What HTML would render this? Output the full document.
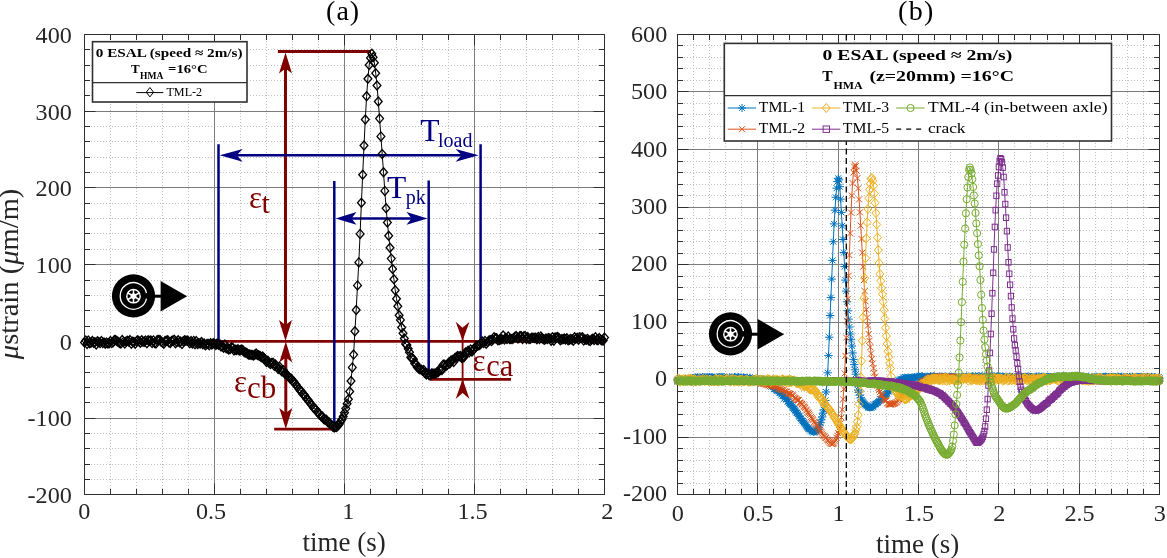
<!DOCTYPE html><html><head><meta charset="utf-8"><style>html,body{margin:0;padding:0;background:#fff;}svg{display:block;will-change:transform;} text{font-family:"Liberation Serif",serif;}</style></head><body>
<svg width="1167" height="558" viewBox="0 0 1167 558">
<rect width="1167" height="558" fill="#fff"/>
<defs>
<marker id="mD" markerUnits="userSpaceOnUse" markerWidth="12" markerHeight="12" refX="6" refY="6" overflow="visible"><path d="M6 1.5 L9.9 6 L6 10.5 L2.1 6 Z" fill="none" stroke="#000" stroke-width="1.3"/></marker>
<marker id="mY" markerUnits="userSpaceOnUse" markerWidth="12" markerHeight="12" refX="6" refY="6" overflow="visible"><path d="M6 1.5 L10 6 L6 10.5 L2 6 Z" fill="none" stroke="#EDB120" stroke-width="1"/></marker>
<marker id="mS" markerUnits="userSpaceOnUse" markerWidth="12" markerHeight="12" refX="6" refY="6" overflow="visible"><path d="M1.8 6 H10.2 M6 2.5 V9.5 M3 3 L9 9 M3 9 L9 3" fill="none" stroke="#0072BD" stroke-width="1"/></marker>
<marker id="mX" markerUnits="userSpaceOnUse" markerWidth="12" markerHeight="12" refX="6" refY="6" overflow="visible"><path d="M3 3 L9 9 M3 9 L9 3" fill="none" stroke="#D95319" stroke-width="1"/></marker>
<marker id="mO" markerUnits="userSpaceOnUse" markerWidth="12" markerHeight="12" refX="6" refY="6" overflow="visible"><circle cx="6" cy="6" r="3.6" fill="none" stroke="#77AC30" stroke-width="1"/></marker>
<marker id="mQ" markerUnits="userSpaceOnUse" markerWidth="12" markerHeight="12" refX="6" refY="6" overflow="visible"><rect x="3.4" y="3.3" width="5.2" height="5.6" fill="none" stroke="#7E2F8E" stroke-width="1"/></marker>
</defs>
<path d="M110.5 35 V494.5 M136.5 35 V494.5 M162.5 35 V494.5 M188.5 35 V494.5 M240.5 35 V494.5 M266.5 35 V494.5 M292.5 35 V494.5 M318.5 35 V494.5 M370.5 35 V494.5 M396.5 35 V494.5 M422.5 35 V494.5 M448.5 35 V494.5 M500.5 35 V494.5 M526.5 35 V494.5 M552.5 35 V494.5 M578.5 35 V494.5 M85 479.5 H604.5 M85 464.5 H604.5 M85 448.5 H604.5 M85 433.5 H604.5 M85 402.5 H604.5 M85 387.5 H604.5 M85 372.5 H604.5 M85 356.5 H604.5 M85 326.5 H604.5 M85 310.5 H604.5 M85 295.5 H604.5 M85 280.5 H604.5 M85 249.5 H604.5 M85 233.5 H604.5 M85 218.5 H604.5 M85 203.5 H604.5 M85 172.5 H604.5 M85 157.5 H604.5 M85 141.5 H604.5 M85 126.5 H604.5 M85 95.5 H604.5 M85 80.5 H604.5 M85 65.5 H604.5 M85 49.5 H604.5" stroke="#c0c0c0" stroke-width="1" stroke-dasharray="1 2" fill="none"/>
<path d="M214.5 34.5 V494.5 M344.5 34.5 V494.5 M474.5 34.5 V494.5 M84.5 111.5 H604.5 M84.5 187.5 H604.5 M84.5 264.5 H604.5 M84.5 341.5 H604.5 M84.5 418.5 H604.5" stroke="#7c7c7c" stroke-width="1" fill="none"/>
<path d="M693.5 35 V494.5 M709.5 35 V494.5 M725.5 35 V494.5 M741.5 35 V494.5 M773.5 35 V494.5 M789.5 35 V494.5 M806.5 35 V494.5 M822.5 35 V494.5 M854.5 35 V494.5 M870.5 35 V494.5 M886.5 35 V494.5 M902.5 35 V494.5 M934.5 35 V494.5 M950.5 35 V494.5 M966.5 35 V494.5 M982.5 35 V494.5 M1014.5 35 V494.5 M1030.5 35 V494.5 M1047.5 35 V494.5 M1063.5 35 V494.5 M1095.5 35 V494.5 M1111.5 35 V494.5 M1127.5 35 V494.5 M1143.5 35 V494.5 M678 483.5 H1159.5 M678 471.5 H1159.5 M678 460.5 H1159.5 M678 448.5 H1159.5 M678 425.5 H1159.5 M678 414.5 H1159.5 M678 402.5 H1159.5 M678 391.5 H1159.5 M678 368.5 H1159.5 M678 356.5 H1159.5 M678 345.5 H1159.5 M678 333.5 H1159.5 M678 310.5 H1159.5 M678 299.5 H1159.5 M678 287.5 H1159.5 M678 276.5 H1159.5 M678 253.5 H1159.5 M678 241.5 H1159.5 M678 230.5 H1159.5 M678 218.5 H1159.5 M678 195.5 H1159.5 M678 184.5 H1159.5 M678 172.5 H1159.5 M678 161.5 H1159.5 M678 138.5 H1159.5 M678 126.5 H1159.5 M678 114.5 H1159.5 M678 103.5 H1159.5 M678 80.5 H1159.5 M678 68.5 H1159.5 M678 57.5 H1159.5 M678 45.5 H1159.5" stroke="#c0c0c0" stroke-width="1" stroke-dasharray="1 2" fill="none"/>
<path d="M757.5 34.5 V494.5 M838.5 34.5 V494.5 M918.5 34.5 V494.5 M998.5 34.5 V494.5 M1079.5 34.5 V494.5 M677.5 91.5 H1159.5 M677.5 149.5 H1159.5 M677.5 207.5 H1159.5 M677.5 264.5 H1159.5 M677.5 322.5 H1159.5 M677.5 379.5 H1159.5 M677.5 437.5 H1159.5" stroke="#7c7c7c" stroke-width="1" fill="none"/>
<path d="M84.5 34.5 v11 M84.5 494.5 v-11 M214.5 34.5 v11 M214.5 494.5 v-11 M344.5 34.5 v11 M344.5 494.5 v-11 M474.5 34.5 v11 M474.5 494.5 v-11 M604.5 34.5 v11 M604.5 494.5 v-11 M84.5 34.5 h11 M604.5 34.5 h-11 M84.5 111.5 h11 M604.5 111.5 h-11 M84.5 187.5 h11 M604.5 187.5 h-11 M84.5 264.5 h11 M604.5 264.5 h-11 M84.5 341.5 h11 M604.5 341.5 h-11 M84.5 418.5 h11 M604.5 418.5 h-11 M84.5 494.5 h11 M604.5 494.5 h-11" stroke="#303030" stroke-width="1" fill="none"/>
<path d="M110.5 34.5 v5.5 M110.5 494.5 v-5.5 M136.5 34.5 v5.5 M136.5 494.5 v-5.5 M162.5 34.5 v5.5 M162.5 494.5 v-5.5 M188.5 34.5 v5.5 M188.5 494.5 v-5.5 M240.5 34.5 v5.5 M240.5 494.5 v-5.5 M266.5 34.5 v5.5 M266.5 494.5 v-5.5 M292.5 34.5 v5.5 M292.5 494.5 v-5.5 M318.5 34.5 v5.5 M318.5 494.5 v-5.5 M370.5 34.5 v5.5 M370.5 494.5 v-5.5 M396.5 34.5 v5.5 M396.5 494.5 v-5.5 M422.5 34.5 v5.5 M422.5 494.5 v-5.5 M448.5 34.5 v5.5 M448.5 494.5 v-5.5 M500.5 34.5 v5.5 M500.5 494.5 v-5.5 M526.5 34.5 v5.5 M526.5 494.5 v-5.5 M552.5 34.5 v5.5 M552.5 494.5 v-5.5 M578.5 34.5 v5.5 M578.5 494.5 v-5.5 M84.5 479.5 h5.5 M604.5 479.5 h-5.5 M84.5 464.5 h5.5 M604.5 464.5 h-5.5 M84.5 448.5 h5.5 M604.5 448.5 h-5.5 M84.5 433.5 h5.5 M604.5 433.5 h-5.5 M84.5 402.5 h5.5 M604.5 402.5 h-5.5 M84.5 387.5 h5.5 M604.5 387.5 h-5.5 M84.5 372.5 h5.5 M604.5 372.5 h-5.5 M84.5 356.5 h5.5 M604.5 356.5 h-5.5 M84.5 326.5 h5.5 M604.5 326.5 h-5.5 M84.5 310.5 h5.5 M604.5 310.5 h-5.5 M84.5 295.5 h5.5 M604.5 295.5 h-5.5 M84.5 280.5 h5.5 M604.5 280.5 h-5.5 M84.5 249.5 h5.5 M604.5 249.5 h-5.5 M84.5 233.5 h5.5 M604.5 233.5 h-5.5 M84.5 218.5 h5.5 M604.5 218.5 h-5.5 M84.5 203.5 h5.5 M604.5 203.5 h-5.5 M84.5 172.5 h5.5 M604.5 172.5 h-5.5 M84.5 157.5 h5.5 M604.5 157.5 h-5.5 M84.5 141.5 h5.5 M604.5 141.5 h-5.5 M84.5 126.5 h5.5 M604.5 126.5 h-5.5 M84.5 95.5 h5.5 M604.5 95.5 h-5.5 M84.5 80.5 h5.5 M604.5 80.5 h-5.5 M84.5 65.5 h5.5 M604.5 65.5 h-5.5 M84.5 49.5 h5.5 M604.5 49.5 h-5.5" stroke="#303030" stroke-width="1" fill="none"/>
<rect x="84.5" y="34.5" width="520" height="460" fill="none" stroke="#303030" stroke-width="1"/>
<path d="M677.5 34.5 v11 M677.5 494.5 v-11 M757.5 34.5 v11 M757.5 494.5 v-11 M838.5 34.5 v11 M838.5 494.5 v-11 M918.5 34.5 v11 M918.5 494.5 v-11 M998.5 34.5 v11 M998.5 494.5 v-11 M1079.5 34.5 v11 M1079.5 494.5 v-11 M1159.5 34.5 v11 M1159.5 494.5 v-11 M677.5 34.5 h11 M1159.5 34.5 h-11 M677.5 91.5 h11 M1159.5 91.5 h-11 M677.5 149.5 h11 M1159.5 149.5 h-11 M677.5 207.5 h11 M1159.5 207.5 h-11 M677.5 264.5 h11 M1159.5 264.5 h-11 M677.5 322.5 h11 M1159.5 322.5 h-11 M677.5 379.5 h11 M1159.5 379.5 h-11 M677.5 437.5 h11 M1159.5 437.5 h-11 M677.5 494.5 h11 M1159.5 494.5 h-11" stroke="#303030" stroke-width="1" fill="none"/>
<path d="M693.5 34.5 v5.5 M693.5 494.5 v-5.5 M709.5 34.5 v5.5 M709.5 494.5 v-5.5 M725.5 34.5 v5.5 M725.5 494.5 v-5.5 M741.5 34.5 v5.5 M741.5 494.5 v-5.5 M773.5 34.5 v5.5 M773.5 494.5 v-5.5 M789.5 34.5 v5.5 M789.5 494.5 v-5.5 M806.5 34.5 v5.5 M806.5 494.5 v-5.5 M822.5 34.5 v5.5 M822.5 494.5 v-5.5 M854.5 34.5 v5.5 M854.5 494.5 v-5.5 M870.5 34.5 v5.5 M870.5 494.5 v-5.5 M886.5 34.5 v5.5 M886.5 494.5 v-5.5 M902.5 34.5 v5.5 M902.5 494.5 v-5.5 M934.5 34.5 v5.5 M934.5 494.5 v-5.5 M950.5 34.5 v5.5 M950.5 494.5 v-5.5 M966.5 34.5 v5.5 M966.5 494.5 v-5.5 M982.5 34.5 v5.5 M982.5 494.5 v-5.5 M1014.5 34.5 v5.5 M1014.5 494.5 v-5.5 M1030.5 34.5 v5.5 M1030.5 494.5 v-5.5 M1047.5 34.5 v5.5 M1047.5 494.5 v-5.5 M1063.5 34.5 v5.5 M1063.5 494.5 v-5.5 M1095.5 34.5 v5.5 M1095.5 494.5 v-5.5 M1111.5 34.5 v5.5 M1111.5 494.5 v-5.5 M1127.5 34.5 v5.5 M1127.5 494.5 v-5.5 M1143.5 34.5 v5.5 M1143.5 494.5 v-5.5 M677.5 483.5 h5.5 M1159.5 483.5 h-5.5 M677.5 471.5 h5.5 M1159.5 471.5 h-5.5 M677.5 460.5 h5.5 M1159.5 460.5 h-5.5 M677.5 448.5 h5.5 M1159.5 448.5 h-5.5 M677.5 425.5 h5.5 M1159.5 425.5 h-5.5 M677.5 414.5 h5.5 M1159.5 414.5 h-5.5 M677.5 402.5 h5.5 M1159.5 402.5 h-5.5 M677.5 391.5 h5.5 M1159.5 391.5 h-5.5 M677.5 368.5 h5.5 M1159.5 368.5 h-5.5 M677.5 356.5 h5.5 M1159.5 356.5 h-5.5 M677.5 345.5 h5.5 M1159.5 345.5 h-5.5 M677.5 333.5 h5.5 M1159.5 333.5 h-5.5 M677.5 310.5 h5.5 M1159.5 310.5 h-5.5 M677.5 299.5 h5.5 M1159.5 299.5 h-5.5 M677.5 287.5 h5.5 M1159.5 287.5 h-5.5 M677.5 276.5 h5.5 M1159.5 276.5 h-5.5 M677.5 253.5 h5.5 M1159.5 253.5 h-5.5 M677.5 241.5 h5.5 M1159.5 241.5 h-5.5 M677.5 230.5 h5.5 M1159.5 230.5 h-5.5 M677.5 218.5 h5.5 M1159.5 218.5 h-5.5 M677.5 195.5 h5.5 M1159.5 195.5 h-5.5 M677.5 184.5 h5.5 M1159.5 184.5 h-5.5 M677.5 172.5 h5.5 M1159.5 172.5 h-5.5 M677.5 161.5 h5.5 M1159.5 161.5 h-5.5 M677.5 138.5 h5.5 M1159.5 138.5 h-5.5 M677.5 126.5 h5.5 M1159.5 126.5 h-5.5 M677.5 114.5 h5.5 M1159.5 114.5 h-5.5 M677.5 103.5 h5.5 M1159.5 103.5 h-5.5 M677.5 80.5 h5.5 M1159.5 80.5 h-5.5 M677.5 68.5 h5.5 M1159.5 68.5 h-5.5 M677.5 57.5 h5.5 M1159.5 57.5 h-5.5 M677.5 45.5 h5.5 M1159.5 45.5 h-5.5" stroke="#303030" stroke-width="1" fill="none"/>
<rect x="677.5" y="34.5" width="482" height="460" fill="none" stroke="#303030" stroke-width="1"/>
<g stroke="#800000" fill="none">
<path d="M84.5 341.3 H604.5" stroke-width="2.8"/>
<path d="M277.9 51.5 H371" stroke-width="2.8"/>
<path d="M285.5 60 V335" stroke-width="3"/>
<path d="M285.8 350 V422" stroke-width="3"/>
<path d="M274.2 429.2 H333.5" stroke-width="2.8"/>
<path d="M429.5 379.4 H511" stroke-width="2.8"/>
<path d="M462.6 330 V392" stroke-width="1.8"/>
</g>
<path d="M285.5 52.6 L292 73.6 L285.5 68.6 L279 73.6 Z" fill="#800000"/>
<path d="M285.5 341 L279 320 L285.5 325 L292 320 Z" fill="#800000"/>
<path d="M285.8 341.6 L292.3 362.6 L285.8 357.6 L279.3 362.6 Z" fill="#800000"/>
<path d="M285.8 429 L279.3 408 L285.8 413 L292.3 408 Z" fill="#800000"/>
<path d="M462.6 340.8 L455.7 321.8 L462.6 327.8 L469.5 321.8 Z" fill="#800000"/>
<path d="M462.6 378.9 L469.5 398.9 L462.6 392.9 L455.7 398.9 Z" fill="#800000"/>
<g stroke="#000080" fill="none" stroke-width="2.5">
<path d="M218.5 144.2 V341 M480.6 144.2 V341 M334.3 181 V427 M428.7 180.5 V373"/>
<path d="M230 155.3 H468"/>
<path d="M346 218.4 H417"/>
</g>
<path d="M219.7 155.3 L242.7 148.9 L236.7 155.3 L242.7 161.7 Z" fill="#000080"/>
<path d="M478.6 155.3 L455.6 161.7 L461.6 155.3 L455.6 148.9 Z" fill="#000080"/>
<path d="M335.5 218.4 L356.5 212.1 L351.5 218.4 L356.5 224.7 Z" fill="#000080"/>
<path d="M427.5 218.4 L406.5 224.7 L411.5 218.4 L406.5 212.1 Z" fill="#000080"/>
<polyline points="84.5,342.5 85.8,340.6 87.1,344 88.4,340.6 89.7,343.3 91,342.8 92.3,341 93.6,342.8 94.9,342.2 96.2,344.4 97.5,341.3 98.8,342.2 100.1,343.1 101.4,341.1 102.7,343.1 104,342.5 105.3,343.8 106.6,342.6 107.9,343.5 109.2,343.2 110.5,341.1 111.8,343.1 113.1,342.2 114.4,340 115.7,340.1 117,341.1 118.3,341.9 119.6,343 120.9,343.5 122.2,340 123.5,341.9 124.8,343.6 126.1,341.4 127.4,340.7 128.7,341.4 130,340.1 131.3,343.8 132.6,341.7 133.9,342 135.2,343.7 136.5,341.2 137.8,340.3 139.1,341.4 140.4,342.8 141.7,340.3 143,341.7 144.3,341.7 145.6,340.6 146.9,343.2 148.2,340.3 149.5,340.9 150.8,340.4 152.1,343 153.4,340.4 154.7,343 156,343.4 157.3,340.1 158.6,340.1 159.9,340 161.2,341.8 162.5,342.6 163.8,343.8 165.1,341 166.4,340.7 167.7,340.2 169,342.6 170.3,342.9 171.6,341.1 172.9,340.4 174.2,339.8 175.5,343.3 176.8,341.9 178.1,340.2 179.4,342.2 180.7,341.6 182,344 183.3,341.3 184.6,340.2 185.9,340.7 187.2,340.5 188.5,341.5 189.8,343.3 191.1,341.1 192.4,343.5 193.7,340.9 195,344.3 196.3,341.1 197.6,344 198.9,343.2 200.2,343.5 201.5,342 202.8,344.3 204.1,343.4 205.4,345.3 206.7,344.3 208,343.8 209.3,345.3 210.6,343.3 211.9,344.6 213.2,343.3 214.5,343.8 215.8,345 217.1,343.4 218.4,344.7 219.7,344.2 221,346.6 222.3,346 223.6,347.8 224.9,344.6 226.2,348.2 227.5,348.4 228.8,349.5 230.1,349 231.4,347.2 232.7,347.8 234,350.5 235.3,349.8 236.6,349.9 237.9,349.2 239.2,350.5 240.5,350.3 241.8,349.5 243.1,350.4 244.4,352.3 245.7,352.4 247,353.1 248.3,354.6 249.6,354.6 250.9,354.7 252.2,355 253.5,355.5 254.8,354.8 256.1,353.5 257.4,354.9 258.7,355.3 260,356 261.3,357.2 262.6,356.4 263.9,358 265.2,359.4 266.5,361.9 267.8,360.8 269.1,362.8 270.4,363.9 271.7,363.1 273,362.7 274.3,365.7 275.6,364.6 276.9,366.6 278.2,369.1 279.5,366.6 280.8,370.1 282.1,371.6 283.4,370.3 284.7,373.5 286,373.7 287.3,375.7 288.6,376.6 289.9,378.2 291.2,378.8 292.5,380.9 293.8,381.6 295.1,383.7 296.4,385.2 297.7,387.1 299,389.1 300.3,390.7 301.6,391.5 302.9,394.3 304.2,394.8 305.5,396.8 306.8,399 308.1,400.1 309.4,402.1 310.7,403.8 312,405.2 313.3,407.6 314.6,408.5 315.9,409.4 317.2,412 318.5,412.8 319.8,414.6 321.1,416.3 322.4,416.5 323.7,419 325,419.7 326.3,419.8 327.6,422 328.9,422.2 330.2,423.9 331.5,424.9 332.8,426.4 334.1,427.5 335.4,426.8 336.7,427.1 338,425.4 339.3,424 340.6,421.5 341.9,419.5 343.2,416.5 344.5,412.7 345.8,408.6 347.1,403.7 348.4,399.2 349.7,391.5 351,381 352.3,367.4 353.6,354.6 354.9,331.3 356.2,310 357.5,285.4 358.8,262.4 360.1,233.9 361.4,202.8 362.7,174.8 364,145.5 365.3,119.5 366.6,96.3 367.9,78.7 369.2,65 370.5,57.9 371.8,53.7 373.1,57.2 374.4,62.8 375.7,73.3 377,85.5 378.3,101.5 379.6,118.6 380.9,136.4 382.2,154.1 383.5,172.2 384.8,190.9 386.1,208.3 387.4,222.5 388.7,235.8 390,247.7 391.3,258.6 392.6,269 393.9,279.3 395.2,290.2 396.5,298.7 397.8,306.3 399.1,315.2 400.4,319.9 401.7,327.5 403,333.2 404.3,338.5 405.6,343.9 406.9,344.9 408.2,348.8 409.5,352.2 410.8,357.4 412.1,358.1 413.4,359.2 414.7,363.4 416,364.1 417.3,367.3 418.6,368.5 419.9,369.3 421.2,369.6 422.5,370.7 423.8,370.1 425.1,373.2 426.4,374.5 427.7,373.8 429,375.1 430.3,374.9 431.6,373.4 432.9,373.5 434.2,373.7 435.5,373.6 436.8,372.8 438.1,372.3 439.4,369.6 440.7,370.1 442,369.9 443.3,364.6 444.6,364.7 445.9,365.9 447.2,365 448.5,362.7 449.8,363.6 451.1,360.6 452.4,360 453.7,361.9 455,357.9 456.3,357.3 457.6,356.1 458.9,356.6 460.2,356 461.5,357.7 462.8,357.7 464.1,356.9 465.4,352.4 466.7,353 468,350.8 469.3,352.3 470.6,349.5 471.9,351.4 473.2,349.9 474.5,348.5 475.8,346.4 477.1,345.6 478.4,345.2 479.7,344.9 481,343.6 482.3,341.4 483.6,343 484.9,340.9 486.2,343.8 487.5,341.9 488.8,340.7 490.1,340 491.4,341.1 492.7,340 494,337.3 495.3,338.2 496.6,338.2 497.9,340.2 499.2,340.1 500.5,339.2 501.8,339.3 503.1,335.5 504.4,339.6 505.7,337.9 507,339.1 508.3,336.6 509.6,339.1 510.9,339 512.2,339 513.5,338.2 514.8,336.9 516.1,336 517.4,338.3 518.7,338.3 520,336 521.3,336.3 522.6,339 523.9,336.2 525.2,336.1 526.5,338.9 527.8,337.1 529.1,339 530.4,338.8 531.7,337.8 533,337.7 534.3,338 535.6,337.8 536.9,339.2 538.2,336.9 539.5,339.1 540.8,336.5 542.1,338.2 543.4,339.2 544.7,339.8 546,338.5 547.3,339.1 548.6,338.1 549.9,338.6 551.2,340.7 552.5,337.3 553.8,340.7 555.1,337.4 556.4,337.5 557.7,337 559,338.2 560.3,340.3 561.6,339.2 562.9,339.2 564.2,338.4 565.5,339.5 566.8,338.3 568.1,340.3 569.4,339.7 570.7,338.9 572,339.4 573.3,340.8 574.6,337.2 575.9,338.4 577.2,337.8 578.5,339.8 579.8,337.3 581.1,337.9 582.4,337.2 583.7,340.6 585,339.4 586.3,339.8 587.6,338.9 588.9,340.4 590.2,341.1 591.5,339.5 592.8,338.8 594.1,339.9 595.4,337.3 596.7,339.8 598,340.3 599.3,338.1 600.6,339.6 601.9,340.4 603.2,340.4 604.5,337.6" fill="none" stroke="#000" stroke-width="1" marker-start="url(#mD)" marker-mid="url(#mD)" marker-end="url(#mD)"/>
<polyline points="677.5,379.8 678.3,379.7 679.1,378.4 679.9,380.2 680.7,378.9 681.5,378.6 682.3,379.9 683.1,380.3 683.9,379.7 684.7,378.7 685.5,378.9 686.3,379.9 687.1,379.2 687.9,378.6 688.7,379.2 689.5,378.6 690.4,377.7 691.2,378.4 692,379 692.8,379.3 693.6,378.7 694.4,378.1 695.2,377 696,377.1 696.8,378.2 697.6,376.7 698.4,377.8 699.2,377.2 700,378.7 700.8,378.7 701.6,378.4 702.4,376.6 703.2,377.1 704,376.7 704.8,377.2 705.6,377.8 706.4,377.5 707.2,377.3 708,376.6 708.8,377.7 709.6,376.5 710.4,377.2 711.2,376.7 712,377.5 712.8,377 713.6,377.9 714.5,377.4 715.3,378.2 716.1,378.5 716.9,378.6 717.7,377 718.5,377.6 719.3,376.5 720.1,376.6 720.9,377.8 721.7,376.3 722.5,377.3 723.3,376.8 724.1,377.7 724.9,378.3 725.7,378.3 726.5,378.3 727.3,377.3 728.1,378.5 728.9,378.8 729.7,376.7 730.5,378.6 731.3,377.7 732.1,377.6 732.9,377.3 733.7,377.6 734.5,376.5 735.3,377 736.1,377.5 736.9,377.4 737.8,377.7 738.6,376.5 739.4,378.4 740.2,377.2 741,377.6 741.8,378.9 742.6,378.3 743.4,376.7 744.2,377.2 745,379.2 745.8,378.5 746.6,379.3 747.4,377.3 748.2,379.2 749,379.4 749.8,377.1 750.6,378.5 751.4,378.9 752.2,379.6 753,378.8 753.8,378.9 754.6,378.6 755.4,379.9 756.2,379.6 757,379.6 757.8,379.1 758.6,379.5 759.4,378.8 760.2,379.8 761,378.4 761.9,378.5 762.7,381 763.5,380.8 764.3,380.2 765.1,379.9 765.9,382 766.7,382.1 767.5,381.9 768.3,382 769.1,382.1 769.9,382.9 770.7,383.9 771.5,386.6 772.3,385.1 773.1,386.8 773.9,388.9 774.7,389.2 775.5,389 776.3,390.3 777.1,390.8 777.9,390.7 778.7,391.3 779.5,392.8 780.3,392.9 781.1,394.6 781.9,393.9 782.7,395.6 783.5,395.4 784.3,398.6 785.1,397.3 786,398.9 786.8,399.4 787.6,401.5 788.4,401.5 789.2,403.1 790,403.9 790.8,405 791.6,405.2 792.4,406.5 793.2,408 794,409.1 794.8,410 795.6,410.8 796.4,412.6 797.2,413 798,414.1 798.8,415.9 799.6,416.6 800.4,418 801.2,418.7 802,420.4 802.8,421.1 803.6,422.2 804.4,423.3 805.2,424.4 806,425.3 806.8,426.9 807.6,428 808.4,428.6 809.2,429.2 810,429.6 810.9,430.6 811.7,431.2 812.5,431.5 813.3,432.4 814.1,432.3 814.9,431.8 815.7,431.4 816.5,430.5 817.3,429.5 818.1,429.1 818.9,427.1 819.7,425 820.5,422.8 821.3,419.9 822.1,416.9 822.9,413.2 823.7,409.8 824.5,405.1 825.3,400.5 826.1,392 826.9,382.7 827.7,372.8 828.5,355.6 829.3,337.2 830.1,315.5 830.9,297.6 831.7,279.1 832.5,260.4 833.3,241.7 834.1,223.9 835,210.2 835.8,197.3 836.6,188.2 837.4,181.6 838.2,178.3 839,179.8 839.8,186.7 840.6,199.1 841.4,212.4 842.2,225.8 843,239.5 843.8,252.5 844.6,266.6 845.4,280.1 846.2,291.1 847,301.8 847.8,310.8 848.6,319.1 849.4,327 850.2,334 851,339.7 851.8,346 852.6,352.9 853.4,359.4 854.2,364.6 855,369.8 855.8,374.2 856.6,379.6 857.4,384.4 858.2,390.2 859.1,392.2 859.9,395.1 860.7,397.8 861.5,400.1 862.3,401.3 863.1,402.2 863.9,403.3 864.7,404.3 865.5,405.2 866.3,405.4 867.1,406.2 867.9,407.1 868.7,407.4 869.5,407.9 870.3,407.8 871.1,407.4 871.9,407.6 872.7,406.7 873.5,406.3 874.3,404.9 875.1,404.3 875.9,403.9 876.7,403 877.5,403 878.3,402.2 879.1,401.2 879.9,399.2 880.7,399.4 881.5,399.1 882.4,398 883.2,397.6 884,395.6 884.8,396.5 885.6,395.1 886.4,394 887.2,393.4 888,391.1 888.8,391.5 889.6,390.2 890.4,389.8 891.2,387.1 892,387.2 892.8,385.5 893.6,385.8 894.4,385.6 895.2,384.1 896,382.2 896.8,381.4 897.6,381.9 898.4,380 899.2,381.4 900,379.6 900.8,379.8 901.6,379 902.4,379.3 903.2,377.5 904,378.8 904.8,377 905.6,379 906.5,378.1 907.3,377.9 908.1,377.1 908.9,377.9 909.7,377.5 910.5,378.4 911.3,377.7 912.1,376.6 912.9,378.1 913.7,377.2 914.5,377.7 915.3,377.8 916.1,377.9 916.9,376.1 917.7,376.4 918.5,377.2 919.3,377.2 920.1,376.3 920.9,376.6 921.7,375.8 922.5,375.8 923.3,376.9 924.1,376.5 924.9,376.8 925.7,377.4 926.5,377 927.3,376.3 928.1,376.8 928.9,376.6 929.7,376.9 930.5,375.7 931.4,376.2 932.2,377.8 933,376.1 933.8,375.8 934.6,376.1 935.4,377.3 936.2,377.2 937,377.5 937.8,378 938.6,377 939.4,376 940.2,376.2 941,376.5 941.8,376 942.6,376.5 943.4,377.6 944.2,376.1 945,377.2 945.8,375.9 946.6,377.3 947.4,377.9 948.2,376.3 949,377.9 949.8,376 950.6,377.1 951.4,376.2 952.2,378 953,376.8 953.8,376.4 954.7,377.8 955.5,376.6 956.3,377.8 957.1,377.4 957.9,377.2 958.7,376.6 959.5,377.8 960.3,377.7 961.1,376.2 961.9,376.4 962.7,377 963.5,377.4 964.3,376.4 965.1,377 965.9,377.4 966.7,375.9 967.5,377.7 968.3,376.1 969.1,376.6 969.9,376.5 970.7,376.4 971.5,376.3 972.3,375.9 973.1,375.8 973.9,377.5 974.7,377.7 975.5,375.9 976.3,377.6 977.1,377.6 977.9,376.1 978.8,375.7 979.6,376 980.4,376.9 981.2,377.2 982,375.7 982.8,376.3 983.6,376.6 984.4,378.1 985.2,377.7 986,378.1 986.8,375.9 987.6,377.6 988.4,377.7 989.2,376.7 990,377.6 990.8,376.8 991.6,375.8 992.4,376 993.2,377.5 994,375.8 994.8,377.2 995.6,376.8 996.4,377.3 997.2,375.6 998,377.4 998.8,376.3 999.6,376.6 1000.4,376.4 1001.2,377.9 1002,376.8 1002.8,375.6 1003.7,376.7 1004.5,377.7 1005.3,378 1006.1,377.3 1006.9,376.3 1007.7,378.1 1008.5,378 1009.3,376.5 1010.1,375.9 1010.9,377.1 1011.7,376.6 1012.5,377.5 1013.3,377.5 1014.1,377 1014.9,377.6 1015.7,377 1016.5,377.8 1017.3,375.8 1018.1,376.5 1018.9,377.9 1019.7,377.7 1020.5,376.1 1021.3,377.2 1022.1,377.5 1022.9,378.1 1023.7,376.5 1024.5,376.7 1025.3,376.1 1026.1,377.8 1027,376.3 1027.8,376.1 1028.6,376.1 1029.4,376.3 1030.2,377.1 1031,378.1 1031.8,376.6 1032.6,378.1 1033.4,378 1034.2,377.2 1035,377.9 1035.8,377.1 1036.6,376 1037.4,377.8 1038.2,376.2 1039,375.7 1039.8,378.1 1040.6,377.1 1041.4,376.4 1042.2,376.4 1043,377.5 1043.8,376.2 1044.6,377.3 1045.4,377.7 1046.2,376.9 1047,376.7 1047.8,376.1 1048.6,376.5 1049.4,378 1050.2,376.8 1051,377.4 1051.9,376.5 1052.7,378.1 1053.5,376.6 1054.3,376.2 1055.1,378.1 1055.9,378.2 1056.7,376 1057.5,376 1058.3,377.8 1059.1,375.9 1059.9,377.2 1060.7,377 1061.5,377.1 1062.3,377.4 1063.1,376 1063.9,376.7 1064.7,375.9 1065.5,376.7 1066.3,375.9 1067.1,377 1067.9,377.1 1068.7,376.8 1069.5,378.3 1070.3,376.4 1071.1,377.9 1071.9,375.9 1072.7,378.2 1073.5,376.5 1074.3,376.4 1075.2,376.9 1076,378.1 1076.8,376.3 1077.6,377.5 1078.4,377.6 1079.2,376.6 1080,375.9 1080.8,378.1 1081.6,377.2 1082.4,376.6 1083.2,377.6 1084,376 1084.8,376.8 1085.6,378.2 1086.4,378 1087.2,378 1088,377.2 1088.8,376.1 1089.6,378.1 1090.4,378 1091.2,377.8 1092,376.9 1092.8,377.3 1093.6,377.3 1094.4,378 1095.2,376.3 1096,377.2 1096.8,376.2 1097.6,378.3 1098.4,377.3 1099.2,377.5 1100.1,376.3 1100.9,376.7 1101.7,377.1 1102.5,378 1103.3,376.7 1104.1,376.2 1104.9,376.5 1105.7,376 1106.5,377 1107.3,377.7 1108.1,377.9 1108.9,376.4 1109.7,376.4 1110.5,376.9 1111.3,376.5 1112.1,377.2 1112.9,376.3 1113.7,376.7 1114.5,377.9 1115.3,377 1116.1,376.8 1116.9,378 1117.7,376.1 1118.5,376.5 1119.3,378.1 1120.1,378 1120.9,378.5 1121.7,376.1 1122.5,378.1 1123.3,376.4 1124.2,377.2 1125,378.4 1125.8,378 1126.6,377.9 1127.4,376.6 1128.2,377.6 1129,378.2 1129.8,376.2 1130.6,377.3 1131.4,378.4 1132.2,376.1 1133,376.9 1133.8,377.5 1134.6,378.2 1135.4,376.8 1136.2,378.4 1137,376.2 1137.8,376.7 1138.6,376.8 1139.4,376.7 1140.2,376.4 1141,377.4 1141.8,376.6 1142.6,378.4 1143.4,376.9 1144.2,376.7 1145,378.1 1145.8,378.4 1146.6,376.3 1147.5,376.4 1148.3,378.4 1149.1,377.2 1149.9,378.2 1150.7,378.2 1151.5,376.3 1152.3,377 1153.1,376.8 1153.9,378 1154.7,376.7 1155.5,377 1156.3,377.8 1157.1,377.5 1157.9,378.1 1158.7,377.2 1159.5,378.3" fill="none" stroke="#0072BD" stroke-width="1" marker-start="url(#mS)" marker-mid="url(#mS)" marker-end="url(#mS)"/>
<polyline points="677.5,381.5 678.3,381.2 679.1,380 679.9,380.4 680.7,381.4 681.5,380.7 682.3,380.6 683.1,381.2 683.9,380 684.7,381.3 685.5,380.7 686.3,380.4 687.1,380.6 687.9,380.3 688.7,379.9 689.5,379.5 690.4,380.9 691.2,380.1 692,380 692.8,380.8 693.6,381.4 694.4,379.4 695.2,380.7 696,380.7 696.8,379.5 697.6,380.1 698.4,380.3 699.2,379.7 700,381.2 700.8,379.8 701.6,380.5 702.4,381 703.2,379.8 704,379.3 704.8,380.7 705.6,379.8 706.4,380.5 707.2,379.6 708,379.6 708.8,380.7 709.6,379.4 710.4,379.7 711.2,379.7 712,379.4 712.8,380.2 713.6,379.5 714.5,379.2 715.3,380.8 716.1,379.3 716.9,380.2 717.7,380 718.5,380.7 719.3,379.6 720.1,380.4 720.9,379.2 721.7,380.4 722.5,379.8 723.3,380.2 724.1,379.7 724.9,380.6 725.7,380.6 726.5,379.4 727.3,379.4 728.1,379.8 728.9,379.1 729.7,380.6 730.5,379.3 731.3,380.7 732.1,379.1 732.9,379.8 733.7,379.9 734.5,379.1 735.3,379.5 736.1,379.5 736.9,381.1 737.8,380.5 738.6,381.1 739.4,380.9 740.2,380.9 741,379.6 741.8,381.1 742.6,380.8 743.4,380.4 744.2,379.7 745,379.5 745.8,380.1 746.6,381.2 747.4,380.5 748.2,380.3 749,381.7 749.8,380.4 750.6,381.2 751.4,380.8 752.2,380.7 753,380.8 753.8,381.3 754.6,381.3 755.4,382.2 756.2,381.8 757,382.7 757.8,382.1 758.6,382.2 759.4,381.9 760.2,382.9 761,383.9 761.9,383.1 762.7,384 763.5,383.1 764.3,384 765.1,384.3 765.9,383.4 766.7,384.7 767.5,385 768.3,385.3 769.1,385.2 769.9,386.3 770.7,385.6 771.5,385 772.3,386 773.1,385.9 773.9,385.8 774.7,386.3 775.5,386.8 776.3,386.9 777.1,387.2 777.9,388.6 778.7,388.5 779.5,389.1 780.3,389.5 781.1,389.2 781.9,390.1 782.7,389.8 783.5,390.2 784.3,391.6 785.1,391.3 786,391.8 786.8,391.5 787.6,393.2 788.4,393.5 789.2,393.3 790,394 790.8,394 791.6,395.2 792.4,396.1 793.2,395.2 794,397.2 794.8,398.1 795.6,398.5 796.4,399.1 797.2,400 798,400.1 798.8,400.1 799.6,402.5 800.4,402.7 801.2,403.3 802,404 802.8,404.8 803.6,406.3 804.4,407.1 805.2,407.9 806,409.6 806.8,410.4 807.6,411.9 808.4,412.7 809.2,413.8 810,415.3 810.9,417 811.7,418.2 812.5,419.2 813.3,420.1 814.1,421.8 814.9,422.7 815.7,424.1 816.5,425.4 817.3,426.3 818.1,427.8 818.9,429 819.7,429.9 820.5,431.3 821.3,432.3 822.1,433.6 822.9,434.9 823.7,435.7 824.5,436.3 825.3,437.4 826.1,438 826.9,439.5 827.7,440.1 828.5,440.6 829.3,441.6 830.1,442.7 830.9,443.5 831.7,443.9 832.5,444 833.3,443.5 834.1,442.7 835,441.4 835.8,440 836.6,437.8 837.4,435.7 838.2,433.1 839,430.1 839.8,427.2 840.6,423.2 841.4,417.5 842.2,409.6 843,399.3 843.8,389.2 844.6,373.4 845.4,355.8 846.2,337.6 847,320.8 847.8,298.9 848.6,275.8 849.4,255.1 850.2,233.3 851,212.6 851.8,195.6 852.6,183.1 853.4,172.6 854.2,166.7 855,164.7 855.8,166.2 856.6,170.7 857.4,178.1 858.2,188.4 859.1,199.4 859.9,212.3 860.7,225.6 861.5,238.9 862.3,252.7 863.1,266.7 863.9,280.1 864.7,291.1 865.5,301.3 866.3,309.7 867.1,317.6 867.9,325.6 868.7,334 869.5,340.8 870.3,347.1 871.1,353.5 871.9,359 872.7,363.5 873.5,368.1 874.3,373 875.1,376.6 875.9,380 876.7,383.5 877.5,385.5 878.3,388 879.1,389.9 879.9,392.1 880.7,394 881.5,395.3 882.4,395.6 883.2,398.3 884,399.5 884.8,400.8 885.6,399.9 886.4,400.6 887.2,403.1 888,403.6 888.8,404.3 889.6,404.4 890.4,404.5 891.2,404.2 892,404.5 892.8,403.8 893.6,403.9 894.4,403.3 895.2,403 896,402.5 896.8,402.1 897.6,400.8 898.4,399.7 899.2,399.2 900,397.6 900.8,396 901.6,395.4 902.4,396.7 903.2,394.8 904,395 904.8,394.9 905.6,394.4 906.5,392.5 907.3,391.7 908.1,392.1 908.9,392 909.7,391.3 910.5,390.2 911.3,390 912.1,390.9 912.9,390.1 913.7,388.2 914.5,388.3 915.3,387.2 916.1,386.1 916.9,385.6 917.7,384.6 918.5,384.3 919.3,384.3 920.1,383.8 920.9,381.6 921.7,383.2 922.5,381.3 923.3,380.5 924.1,381.4 924.9,381.4 925.7,380.3 926.5,380.1 927.3,379.5 928.1,379.2 928.9,377.8 929.7,379.2 930.5,377.2 931.4,378.8 932.2,376.7 933,377.8 933.8,376.9 934.6,378.2 935.4,377.1 936.2,376.5 937,376.5 937.8,376.1 938.6,377.4 939.4,376.8 940.2,376.4 941,377.6 941.8,375.9 942.6,376.8 943.4,377.2 944.2,377.3 945,376.4 945.8,377.7 946.6,377.3 947.4,377.2 948.2,377.3 949,376.4 949.8,376.7 950.6,376.1 951.4,376.5 952.2,377.4 953,377.4 953.8,377.8 954.7,377.6 955.5,376.9 956.3,376.7 957.1,377.7 957.9,377.6 958.7,376.7 959.5,376.4 960.3,378.3 961.1,378.4 961.9,377 962.7,377.6 963.5,377.8 964.3,377.4 965.1,377.2 965.9,378.6 966.7,376.8 967.5,376.8 968.3,378 969.1,377.9 969.9,378.3 970.7,377.7 971.5,378.5 972.3,377.8 973.1,377.1 973.9,377.9 974.7,377.3 975.5,378.7 976.3,377.2 977.1,378.8 977.9,378.6 978.8,377.6 979.6,378.5 980.4,378.9 981.2,379 982,377.5 982.8,379.1 983.6,379.1 984.4,377.3 985.2,377.6 986,378.5 986.8,378.9 987.6,377.5 988.4,377.6 989.2,377.9 990,378.2 990.8,378.2 991.6,377.3 992.4,378.2 993.2,379.2 994,379.2 994.8,378.1 995.6,377.8 996.4,378.1 997.2,377.8 998,378.8 998.8,378.6 999.6,378.8 1000.4,378.6 1001.2,378.8 1002,377.7 1002.8,379.1 1003.7,379 1004.5,377.9 1005.3,378.6 1006.1,378.7 1006.9,377.4 1007.7,377.6 1008.5,379 1009.3,379.1 1010.1,378.4 1010.9,378.2 1011.7,378.7 1012.5,378.2 1013.3,378 1014.1,377.7 1014.9,378.9 1015.7,378.1 1016.5,379.3 1017.3,379.3 1018.1,379.3 1018.9,379.2 1019.7,377.8 1020.5,378.7 1021.3,378.4 1022.1,378.5 1022.9,379 1023.7,379.4 1024.5,379.1 1025.3,377.7 1026.1,378.8 1027,378.6 1027.8,378.9 1028.6,377.9 1029.4,378 1030.2,378.7 1031,378.4 1031.8,378.7 1032.6,378.3 1033.4,378.3 1034.2,378.3 1035,377.6 1035.8,377.5 1036.6,379.4 1037.4,378.7 1038.2,379.4 1039,378.7 1039.8,377.8 1040.6,378.1 1041.4,378.3 1042.2,379.3 1043,377.8 1043.8,378.3 1044.6,378.9 1045.4,377.9 1046.2,379.4 1047,379.1 1047.8,377.9 1048.6,379.4 1049.4,379.3 1050.2,378.5 1051,378.1 1051.9,378.3 1052.7,379.5 1053.5,379 1054.3,378.1 1055.1,378.8 1055.9,379.1 1056.7,379.5 1057.5,379 1058.3,377.6 1059.1,379.5 1059.9,378.4 1060.7,377.7 1061.5,378.1 1062.3,379 1063.1,378.2 1063.9,379.3 1064.7,378.5 1065.5,379 1066.3,377.8 1067.1,377.8 1067.9,378 1068.7,378.8 1069.5,377.9 1070.3,377.5 1071.1,378.8 1071.9,378.5 1072.7,379.2 1073.5,379.4 1074.3,378.1 1075.2,379.5 1076,378.3 1076.8,379.4 1077.6,378.2 1078.4,378 1079.2,377.6 1080,378.8 1080.8,378.8 1081.6,378.8 1082.4,378.1 1083.2,378 1084,379.4 1084.8,378.9 1085.6,379.5 1086.4,379.1 1087.2,378.1 1088,377.7 1088.8,377.6 1089.6,379.5 1090.4,378.8 1091.2,377.8 1092,378.6 1092.8,378.9 1093.6,378 1094.4,377.8 1095.2,379.3 1096,378.5 1096.8,379.3 1097.6,379.2 1098.4,378.5 1099.2,379.1 1100.1,378 1100.9,378.9 1101.7,379.3 1102.5,378.3 1103.3,379.1 1104.1,379.5 1104.9,377.6 1105.7,379.3 1106.5,379.4 1107.3,378.6 1108.1,379.6 1108.9,378 1109.7,379.5 1110.5,379.6 1111.3,377.6 1112.1,378.6 1112.9,377.7 1113.7,377.8 1114.5,378.1 1115.3,379.6 1116.1,378.3 1116.9,379.5 1117.7,379.6 1118.5,377.9 1119.3,379 1120.1,378.1 1120.9,378.5 1121.7,378 1122.5,378.3 1123.3,377.6 1124.2,378.7 1125,377.9 1125.8,377.9 1126.6,378.4 1127.4,378.6 1128.2,378.8 1129,378.3 1129.8,379.2 1130.6,378.7 1131.4,378.3 1132.2,379 1133,379.2 1133.8,379.4 1134.6,378 1135.4,377.8 1136.2,377.9 1137,378.2 1137.8,378.4 1138.6,379.5 1139.4,377.8 1140.2,378.7 1141,378.2 1141.8,379.4 1142.6,378.1 1143.4,379.4 1144.2,377.7 1145,378.2 1145.8,378.6 1146.6,378.3 1147.5,379.2 1148.3,378.6 1149.1,379.5 1149.9,379.1 1150.7,379.1 1151.5,379.3 1152.3,378.8 1153.1,379.5 1153.9,379.6 1154.7,379 1155.5,377.6 1156.3,378.2 1157.1,378.8 1157.9,379.2 1158.7,379.4 1159.5,378.8" fill="none" stroke="#D95319" stroke-width="1" marker-start="url(#mX)" marker-mid="url(#mX)" marker-end="url(#mX)"/>
<polyline points="677.5,378.8 678.3,380.3 679.1,378.7 679.9,381.8 680.7,380 681.5,380.8 682.3,379.3 683.1,381.5 683.9,379.1 684.7,380.2 685.5,379 686.3,380.4 687.1,380.6 687.9,379.4 688.7,378.7 689.5,380.8 690.4,378.7 691.2,378.9 692,381.5 692.8,380 693.6,379.6 694.4,378.8 695.2,379.8 696,381.6 696.8,380.4 697.6,380.4 698.4,380.3 699.2,378.8 700,380.9 700.8,381.3 701.6,380.3 702.4,379.9 703.2,378.8 704,380.1 704.8,381.2 705.6,378.9 706.4,380.4 707.2,379.7 708,380.4 708.8,381.3 709.6,379.7 710.4,379.4 711.2,381.4 712,380.5 712.8,380.8 713.6,381.5 714.5,381.3 715.3,378.8 716.1,379 716.9,380.8 717.7,379.5 718.5,381.9 719.3,378.9 720.1,380.2 720.9,379.2 721.7,381.1 722.5,380.8 723.3,380.9 724.1,378.7 724.9,380.6 725.7,380.4 726.5,378.8 727.3,379 728.1,380.7 728.9,381 729.7,379.3 730.5,381.7 731.3,380.7 732.1,379.1 732.9,378.9 733.7,381.3 734.5,381.8 735.3,379.4 736.1,379.9 736.9,381.3 737.8,380.3 738.6,381.8 739.4,379.7 740.2,380.3 741,379.6 741.8,381.8 742.6,379.9 743.4,380.8 744.2,380.4 745,380.9 745.8,379.9 746.6,380.1 747.4,379.9 748.2,381.9 749,381.3 749.8,381.8 750.6,380.8 751.4,380.4 752.2,381.7 753,379.8 753.8,380.4 754.6,380.3 755.4,380 756.2,378.8 757,380 757.8,381.8 758.6,381.6 759.4,379.7 760.2,381 761,379.5 761.9,380.3 762.7,380.8 763.5,379.5 764.3,381.5 765.1,381.1 765.9,381.1 766.7,380.7 767.5,379 768.3,379.4 769.1,379.3 769.9,380 770.7,382.2 771.5,381.2 772.3,380.5 773.1,379.2 773.9,381 774.7,380.4 775.5,379.4 776.3,381.2 777.1,379.8 777.9,380.3 778.7,380.6 779.5,380.3 780.3,380.8 781.1,382.1 781.9,379.4 782.7,379.2 783.5,379.7 784.3,381.4 785.1,380.5 786,380.1 786.8,382.6 787.6,380.1 788.4,382.6 789.2,379.6 790,382.1 790.8,379.7 791.6,382.3 792.4,381.4 793.2,380.6 794,380.3 794.8,381.5 795.6,381.3 796.4,383.1 797.2,382.1 798,383.6 798.8,382 799.6,382.8 800.4,384.5 801.2,383.4 802,386.3 802.8,383.7 803.6,384.8 804.4,386.5 805.2,385.8 806,385.7 806.8,386.6 807.6,386.1 808.4,388.2 809.2,388.9 810,389.2 810.9,389.9 811.7,389.7 812.5,389.2 813.3,389.3 814.1,390.7 814.9,390.8 815.7,390.8 816.5,392.6 817.3,395.5 818.1,394.6 818.9,397.8 819.7,396.6 820.5,396.6 821.3,399.5 822.1,399 822.9,403.2 823.7,400.9 824.5,403.9 825.3,404 826.1,405.7 826.9,406.5 827.7,407.9 828.5,409 829.3,409.2 830.1,410.3 830.9,412.2 831.7,412.9 832.5,414.6 833.3,415.1 834.1,417.3 835,418.1 835.8,419.1 836.6,420.9 837.4,422.1 838.2,423.3 839,424.7 839.8,425.8 840.6,427.8 841.4,428.2 842.2,430 843,430.8 843.8,432.3 844.6,433.4 845.4,434.2 846.2,436.1 847,436 847.8,437.6 848.6,437.7 849.4,439 850.2,439.1 851,439.4 851.8,438.1 852.6,437.8 853.4,436.4 854.2,434.7 855,433.3 855.8,430 856.6,427 857.4,421.7 858.2,415.1 859.1,404.3 859.9,390.9 860.7,377.2 861.5,361 862.3,340.7 863.1,317.3 863.9,298 864.7,278.2 865.5,258.2 866.3,238.4 867.1,222.3 867.9,209 868.7,198.1 869.5,189.7 870.3,183.9 871.1,178.9 871.9,177.9 872.7,180.7 873.5,185.7 874.3,193.5 875.1,202.8 875.9,213.1 876.7,224.5 877.5,237.5 878.3,250 879.1,263.1 879.9,274 880.7,280.9 881.5,288.1 882.4,294.1 883.2,301.7 884,310 884.8,318.6 885.6,327.8 886.4,336 887.2,343.9 888,351.2 888.8,356.8 889.6,363.1 890.4,368.5 891.2,376.4 892,382.7 892.8,387.9 893.6,387.5 894.4,389.3 895.2,390.5 896,392.4 896.8,392.8 897.6,394.5 898.4,394.1 899.2,396.3 900,395.3 900.8,395.7 901.6,396.5 902.4,396.1 903.2,396.9 904,398.6 904.8,399.5 905.6,398.7 906.5,399.2 907.3,396.8 908.1,398 908.9,397 909.7,395.9 910.5,395.8 911.3,394.9 912.1,395.2 912.9,393.6 913.7,392 914.5,392.9 915.3,391.1 916.1,389.3 916.9,390.9 917.7,390.6 918.5,388.5 919.3,386.3 920.1,386.8 920.9,387.1 921.7,383.6 922.5,384.6 923.3,384 924.1,384.5 924.9,382.7 925.7,380.3 926.5,381.7 927.3,380.2 928.1,379.3 928.9,382.2 929.7,379.5 930.5,381.2 931.4,379.6 932.2,378.3 933,379.8 933.8,378.5 934.6,379.9 935.4,378.9 936.2,378.4 937,379.1 937.8,379.8 938.6,378.4 939.4,380.4 940.2,379.8 941,378.2 941.8,379.2 942.6,380.6 943.4,378.6 944.2,377.8 945,380.3 945.8,377.8 946.6,380.9 947.4,377.6 948.2,378.8 949,380 949.8,380.4 950.6,379.4 951.4,379.4 952.2,379.2 953,379.1 953.8,380.6 954.7,380.1 955.5,380.4 956.3,378.1 957.1,380.4 957.9,378.6 958.7,380.6 959.5,378.7 960.3,379.4 961.1,379.2 961.9,378.3 962.7,379.9 963.5,378.5 964.3,377.8 965.1,378.4 965.9,378.9 966.7,378.5 967.5,377.8 968.3,380.8 969.1,377.5 969.9,379.3 970.7,377.8 971.5,380.7 972.3,379.9 973.1,379 973.9,379 974.7,377.7 975.5,379.8 976.3,380.1 977.1,378.7 977.9,380.4 978.8,377.8 979.6,380.1 980.4,380.9 981.2,378.8 982,380.1 982.8,377.8 983.6,380.6 984.4,379.2 985.2,378.9 986,379.2 986.8,380.7 987.6,379.1 988.4,380.5 989.2,380.8 990,377.8 990.8,380 991.6,380.7 992.4,380.9 993.2,377.9 994,378 994.8,378.4 995.6,378.2 996.4,380 997.2,378.9 998,378.4 998.8,380.1 999.6,378.4 1000.4,378.2 1001.2,379.1 1002,378.7 1002.8,380.8 1003.7,379.6 1004.5,379.8 1005.3,379.7 1006.1,377.7 1006.9,377.7 1007.7,380.7 1008.5,378.9 1009.3,380.2 1010.1,378.7 1010.9,377.6 1011.7,380.4 1012.5,379.6 1013.3,379.7 1014.1,378.5 1014.9,378.1 1015.7,380.8 1016.5,380.2 1017.3,379.6 1018.1,377.6 1018.9,378.3 1019.7,378.8 1020.5,377.6 1021.3,379.6 1022.1,378.2 1022.9,380.1 1023.7,380 1024.5,377.8 1025.3,378.1 1026.1,378.8 1027,380.4 1027.8,379.8 1028.6,377.7 1029.4,379.4 1030.2,380.8 1031,380.1 1031.8,378.9 1032.6,378 1033.4,379.4 1034.2,380.1 1035,378.2 1035.8,379.9 1036.6,380 1037.4,378.9 1038.2,379.1 1039,377.9 1039.8,379.4 1040.6,378.7 1041.4,379.3 1042.2,378.6 1043,377.8 1043.8,380.6 1044.6,377.8 1045.4,377.8 1046.2,379.7 1047,380.9 1047.8,379.3 1048.6,378.6 1049.4,380.2 1050.2,380.3 1051,379.7 1051.9,377.8 1052.7,378.9 1053.5,378.5 1054.3,378.9 1055.1,378.6 1055.9,379.4 1056.7,379.2 1057.5,380.6 1058.3,377.5 1059.1,380.3 1059.9,378.1 1060.7,378.7 1061.5,378.3 1062.3,379.1 1063.1,379 1063.9,379.7 1064.7,380.7 1065.5,378.8 1066.3,378.8 1067.1,379.8 1067.9,377.7 1068.7,377.7 1069.5,379.7 1070.3,379.3 1071.1,380.2 1071.9,378.4 1072.7,380.3 1073.5,379.8 1074.3,377.6 1075.2,380.4 1076,377.8 1076.8,379 1077.6,380.2 1078.4,378.1 1079.2,378.9 1080,378.2 1080.8,379.6 1081.6,379.8 1082.4,380.5 1083.2,380.5 1084,379.1 1084.8,379.6 1085.6,380.7 1086.4,380.3 1087.2,379.2 1088,380.8 1088.8,380.9 1089.6,378.6 1090.4,380.6 1091.2,379.5 1092,377.7 1092.8,380.6 1093.6,379.6 1094.4,380.2 1095.2,378.2 1096,379.1 1096.8,380.6 1097.6,378.3 1098.4,377.7 1099.2,378.2 1100.1,380.2 1100.9,377.5 1101.7,378.6 1102.5,379.6 1103.3,380.6 1104.1,379.1 1104.9,380.7 1105.7,380.5 1106.5,378.7 1107.3,378.3 1108.1,378.8 1108.9,379.4 1109.7,378 1110.5,378 1111.3,380.8 1112.1,378.4 1112.9,378.1 1113.7,378.8 1114.5,379.4 1115.3,378.3 1116.1,380.8 1116.9,377.8 1117.7,379.1 1118.5,378.9 1119.3,378.6 1120.1,379.3 1120.9,379.9 1121.7,380.1 1122.5,380.4 1123.3,380.9 1124.2,378 1125,377.6 1125.8,378.5 1126.6,379.9 1127.4,379.5 1128.2,378.1 1129,379.3 1129.8,379.6 1130.6,378.2 1131.4,380 1132.2,380.6 1133,379.6 1133.8,377.9 1134.6,377.5 1135.4,380.2 1136.2,378.2 1137,380.6 1137.8,378.6 1138.6,380.5 1139.4,380.2 1140.2,378.2 1141,380.5 1141.8,379.1 1142.6,379.7 1143.4,377.5 1144.2,378.3 1145,379.9 1145.8,377.5 1146.6,378.7 1147.5,380.4 1148.3,379.9 1149.1,378.1 1149.9,377.6 1150.7,380.8 1151.5,379 1152.3,380.2 1153.1,378.5 1153.9,380.9 1154.7,378.4 1155.5,379.1 1156.3,378.7 1157.1,379.3 1157.9,378.6 1158.7,378 1159.5,380.7" fill="none" stroke="#EDB120" stroke-width="1" marker-start="url(#mY)" marker-mid="url(#mY)" marker-end="url(#mY)"/>
<polyline points="677.5,380.6 678.3,380.6 679.1,380.9 679.9,381.2 680.7,381.4 681.5,381.1 682.3,381 683.1,381.4 683.9,381.4 684.7,380.4 685.5,380.8 686.3,381.2 687.1,381 687.9,380.4 688.7,380.5 689.5,380.5 690.4,381.1 691.2,380.9 692,380.7 692.8,381.4 693.6,380.9 694.4,381.2 695.2,380.5 696,381.4 696.8,380.7 697.6,380.5 698.4,381.2 699.2,380.5 700,380.5 700.8,381.5 701.6,380.7 702.4,381.5 703.2,380.9 704,381 704.8,381.3 705.6,381.1 706.4,380.6 707.2,381.1 708,381.3 708.8,380.7 709.6,381 710.4,380.6 711.2,381.2 712,381.1 712.8,380.6 713.6,380.9 714.5,380.9 715.3,381.2 716.1,381.5 716.9,380.4 717.7,381.4 718.5,380.5 719.3,381.1 720.1,380.4 720.9,381 721.7,380.4 722.5,380.9 723.3,381.2 724.1,380.6 724.9,380.7 725.7,380.7 726.5,381 727.3,381.2 728.1,380.8 728.9,381.4 729.7,380.7 730.5,380.8 731.3,381.1 732.1,380.6 732.9,381.3 733.7,381.1 734.5,380.6 735.3,381.1 736.1,380.7 736.9,380.8 737.8,380.4 738.6,380.4 739.4,380.7 740.2,380.6 741,381.3 741.8,380.7 742.6,380.5 743.4,381 744.2,380.9 745,380.9 745.8,380.4 746.6,381.1 747.4,381 748.2,381.5 749,381 749.8,380.8 750.6,380.4 751.4,380.4 752.2,381.1 753,380.4 753.8,381.3 754.6,380.6 755.4,381.3 756.2,381 757,381.4 757.8,380.5 758.6,380.5 759.4,381.3 760.2,380.9 761,381.2 761.9,380.9 762.7,380.9 763.5,381.4 764.3,380.5 765.1,381.2 765.9,381 766.7,381.4 767.5,381.5 768.3,381.3 769.1,381.1 769.9,380.4 770.7,380.5 771.5,380.9 772.3,381 773.1,380.7 773.9,380.5 774.7,381.1 775.5,380.6 776.3,381 777.1,380.8 777.9,380.7 778.7,380.9 779.5,380.7 780.3,380.7 781.1,381.5 781.9,381.5 782.7,381.3 783.5,381.3 784.3,381.3 785.1,381.4 786,381.3 786.8,380.8 787.6,380.5 788.4,381.1 789.2,381.1 790,381 790.8,380.7 791.6,380.6 792.4,380.4 793.2,381.1 794,380.7 794.8,381.1 795.6,380.6 796.4,381.2 797.2,380.5 798,380.9 798.8,380.7 799.6,380.9 800.4,381.1 801.2,380.9 802,381.4 802.8,381.5 803.6,380.9 804.4,381 805.2,380.5 806,381.5 806.8,380.9 807.6,380.9 808.4,380.8 809.2,380.7 810,380.9 810.9,380.9 811.7,380.9 812.5,380.8 813.3,381.2 814.1,380.9 814.9,380.7 815.7,381.3 816.5,380.4 817.3,380.6 818.1,380.4 818.9,381.2 819.7,381 820.5,381.2 821.3,381.4 822.1,381.5 822.9,381.2 823.7,380.5 824.5,381.3 825.3,380.7 826.1,381.2 826.9,381.4 827.7,381.3 828.5,380.7 829.3,380.9 830.1,380.9 830.9,381 831.7,381.2 832.5,380.9 833.3,380.4 834.1,381.3 835,380.7 835.8,381.2 836.6,381.3 837.4,381.1 838.2,381.4 839,380.4 839.8,381.1 840.6,381.3 841.4,381.5 842.2,381.4 843,381.3 843.8,381 844.6,380.8 845.4,380.4 846.2,380.5 847,381.2 847.8,380.8 848.6,380.4 849.4,381.4 850.2,380.5 851,381 851.8,380.6 852.6,381.1 853.4,380.8 854.2,380.9 855,381.4 855.8,380.6 856.6,380.6 857.4,380.9 858.2,381.1 859.1,380.4 859.9,381.1 860.7,380.5 861.5,381 862.3,381.1 863.1,381.1 863.9,381.4 864.7,381.2 865.5,381.2 866.3,381.4 867.1,380.9 867.9,381 868.7,381.5 869.5,381.3 870.3,380.5 871.1,381.4 871.9,381.1 872.7,380.5 873.5,381.4 874.3,381.1 875.1,380.7 875.9,381.6 876.7,381.6 877.5,380.6 878.3,380.9 879.1,381.5 879.9,381.2 880.7,381.5 881.5,380.8 882.4,380.8 883.2,381.8 884,381.4 884.8,381.8 885.6,381.6 886.4,381.2 887.2,381.3 888,382 888.8,381.9 889.6,381.8 890.4,381.9 891.2,381.7 892,381.6 892.8,382.3 893.6,382.2 894.4,382.8 895.2,382.5 896,382 896.8,382.6 897.6,382.7 898.4,382.7 899.2,382.9 900,382.7 900.8,383.5 901.6,383.5 902.4,383 903.2,383.6 904,383.2 904.8,384.2 905.6,383.6 906.5,384.1 907.3,384.2 908.1,383.8 908.9,384.8 909.7,384.5 910.5,384.9 911.3,385 912.1,384.5 912.9,385.2 913.7,384.9 914.5,385.9 915.3,384.9 916.1,385.1 916.9,385.6 917.7,386.3 918.5,385.9 919.3,386.6 920.1,386.6 920.9,387.2 921.7,387.4 922.5,387.5 923.3,387.7 924.1,387.1 924.9,388.1 925.7,387.6 926.5,388.8 927.3,389 928.1,389.3 928.9,388.5 929.7,388.9 930.5,390.1 931.4,389.3 932.2,390.4 933,390.6 933.8,390.6 934.6,391.3 935.4,390.8 936.2,391.8 937,392 937.8,392.4 938.6,393.1 939.4,393.1 940.2,393.3 941,394.3 941.8,395.5 942.6,395.3 943.4,396.1 944.2,397 945,397.6 945.8,398.8 946.6,399.5 947.4,400 948.2,401.3 949,401.6 949.8,402.9 950.6,403.5 951.4,404.1 952.2,405.1 953,406.1 953.8,406.9 954.7,407.8 955.5,408.9 956.3,410.1 957.1,411.4 957.9,412.5 958.7,413.7 959.5,415.1 960.3,416.1 961.1,417.5 961.9,418.7 962.7,419.9 963.5,421.4 964.3,422.6 965.1,423.6 965.9,425.2 966.7,426.6 967.5,428 968.3,429.3 969.1,430.6 969.9,432.1 970.7,433.3 971.5,434.6 972.3,435.9 973.1,437.1 973.9,438.5 974.7,439.9 975.5,441.3 976.3,442.3 977.1,442.6 977.9,442.4 978.8,442.1 979.6,441.3 980.4,440.5 981.2,439.5 982,438.4 982.8,436.7 983.6,434 984.4,431 985.2,426.4 986,418.6 986.8,409.6 987.6,399 988.4,385.4 989.2,370.5 990,352.8 990.8,333.9 991.6,313.6 992.4,293.1 993.2,272.7 994,249.3 994.8,226.9 995.6,210 996.4,195.7 997.2,183.6 998,175.4 998.8,166.9 999.6,161 1000.4,158.2 1001.2,159.2 1002,162.1 1002.8,167.5 1003.7,176.9 1004.5,192.2 1005.3,204 1006.1,217.6 1006.9,231 1007.7,247.4 1008.5,262.2 1009.3,273.7 1010.1,284.7 1010.9,296 1011.7,307.4 1012.5,318.5 1013.3,329.1 1014.1,338.4 1014.9,345.1 1015.7,350.3 1016.5,356.6 1017.3,363.2 1018.1,369 1018.9,375.8 1019.7,381.7 1020.5,386.6 1021.3,389.8 1022.1,391.8 1022.9,394.8 1023.7,396.1 1024.5,398.4 1025.3,400.1 1026.1,401.2 1027,403 1027.8,404.1 1028.6,405 1029.4,405.9 1030.2,406.9 1031,407.7 1031.8,408.2 1032.6,409 1033.4,409.6 1034.2,410 1035,410.2 1035.8,410.1 1036.6,410.3 1037.4,409.8 1038.2,409.5 1039,409.1 1039.8,408.6 1040.6,408 1041.4,407.5 1042.2,406.6 1043,405.8 1043.8,405.2 1044.6,404.6 1045.4,404 1046.2,403.2 1047,403.2 1047.8,402.3 1048.6,400.7 1049.4,400.4 1050.2,399.4 1051,399 1051.9,398.8 1052.7,397.5 1053.5,396.6 1054.3,396.5 1055.1,395.3 1055.9,394 1056.7,394.2 1057.5,393.4 1058.3,392.5 1059.1,391 1059.9,389.9 1060.7,389.9 1061.5,388.3 1062.3,388.3 1063.1,387.2 1063.9,386.3 1064.7,386.4 1065.5,385.5 1066.3,384.5 1067.1,384.6 1067.9,383.5 1068.7,383.5 1069.5,382.4 1070.3,382.6 1071.1,381.8 1071.9,382.3 1072.7,381.7 1073.5,381.7 1074.3,381.2 1075.2,381.1 1076,381.1 1076.8,380.7 1077.6,380.3 1078.4,380.3 1079.2,380.6 1080,379.9 1080.8,379.9 1081.6,380.2 1082.4,380.1 1083.2,380.4 1084,379.7 1084.8,380.3 1085.6,380.3 1086.4,379.6 1087.2,380.4 1088,380.5 1088.8,380.3 1089.6,380.2 1090.4,380.1 1091.2,380.4 1092,380.1 1092.8,380.9 1093.6,379.8 1094.4,380.4 1095.2,380.4 1096,380.4 1096.8,380.6 1097.6,380 1098.4,380.4 1099.2,380.9 1100.1,380.6 1100.9,380.4 1101.7,380.6 1102.5,380.9 1103.3,380 1104.1,380.8 1104.9,380.2 1105.7,380.5 1106.5,380.4 1107.3,380.2 1108.1,381 1108.9,380.5 1109.7,380.5 1110.5,380.6 1111.3,381 1112.1,381 1112.9,380.5 1113.7,380.5 1114.5,380.7 1115.3,380.9 1116.1,380.7 1116.9,380.3 1117.7,380.1 1118.5,380.2 1119.3,381.1 1120.1,380.7 1120.9,380.5 1121.7,380.2 1122.5,380.5 1123.3,380.2 1124.2,380.3 1125,381 1125.8,380 1126.6,380.5 1127.4,380.4 1128.2,380.8 1129,380.1 1129.8,380 1130.6,380.8 1131.4,380.6 1132.2,381.1 1133,380.3 1133.8,380.4 1134.6,380.9 1135.4,380.2 1136.2,380.5 1137,380.1 1137.8,380.2 1138.6,381.1 1139.4,380.9 1140.2,380.2 1141,381.2 1141.8,381 1142.6,380.1 1143.4,380.3 1144.2,380.9 1145,380.8 1145.8,381.2 1146.6,381.1 1147.5,381.2 1148.3,380.5 1149.1,380.5 1149.9,381 1150.7,380.2 1151.5,380.6 1152.3,380.5 1153.1,380.4 1153.9,381 1154.7,380.3 1155.5,380.7 1156.3,380.6 1157.1,381.1 1157.9,380.9 1158.7,380.7 1159.5,380.4" fill="none" stroke="#7E2F8E" stroke-width="1" marker-start="url(#mQ)" marker-mid="url(#mQ)" marker-end="url(#mQ)"/>
<polyline points="677.5,380.9 678.3,381.1 679.1,381.1 679.9,381.1 680.7,380.3 681.5,380.7 682.3,380.7 683.1,381.2 683.9,380.7 684.7,381.4 685.5,381.5 686.3,380.4 687.1,381.6 687.9,380.3 688.7,380.5 689.5,380.5 690.4,381.6 691.2,381.3 692,380.4 692.8,381 693.6,380.8 694.4,381.5 695.2,381.4 696,380.9 696.8,380.6 697.6,380.9 698.4,381.5 699.2,380.4 700,381.4 700.8,381 701.6,380.8 702.4,381.2 703.2,381 704,380.4 704.8,381 705.6,380.9 706.4,380.3 707.2,381.2 708,380.4 708.8,381.1 709.6,381.2 710.4,380.4 711.2,381.5 712,380.4 712.8,380.5 713.6,380.4 714.5,381.5 715.3,381.3 716.1,380.6 716.9,381 717.7,381.6 718.5,380.7 719.3,380.5 720.1,380.3 720.9,381.4 721.7,381.3 722.5,380.5 723.3,381.5 724.1,381.3 724.9,381 725.7,381.1 726.5,380.9 727.3,380.4 728.1,380.8 728.9,380.7 729.7,380.8 730.5,381.4 731.3,381 732.1,380.3 732.9,380.4 733.7,380.6 734.5,380.9 735.3,380.5 736.1,380.8 736.9,381.1 737.8,380.9 738.6,381.4 739.4,380.9 740.2,381.2 741,380.6 741.8,380.5 742.6,380.3 743.4,380.5 744.2,381.6 745,380.7 745.8,380.6 746.6,380.5 747.4,381 748.2,381 749,380.9 749.8,381.5 750.6,380.4 751.4,380.3 752.2,381.3 753,380.4 753.8,381.4 754.6,381.6 755.4,380.7 756.2,380.6 757,381.4 757.8,380.4 758.6,381.1 759.4,381.4 760.2,381.3 761,381.5 761.9,380.6 762.7,381.3 763.5,380.7 764.3,381.1 765.1,381.5 765.9,380.9 766.7,380.4 767.5,381.5 768.3,380.4 769.1,381.6 769.9,380.9 770.7,381.5 771.5,380.4 772.3,381 773.1,380.5 773.9,380.8 774.7,381.1 775.5,381.4 776.3,380.5 777.1,380.5 777.9,380.7 778.7,380.6 779.5,381.7 780.3,381.4 781.1,381 781.9,381.6 782.7,380.9 783.5,380.5 784.3,381.3 785.1,380.8 786,381.5 786.8,380.7 787.6,380.5 788.4,380.6 789.2,381.2 790,381.3 790.8,381.7 791.6,380.6 792.4,380.5 793.2,381 794,380.7 794.8,381.5 795.6,380.8 796.4,381.5 797.2,380.8 798,381.8 798.8,381.3 799.6,381.5 800.4,381.8 801.2,381.5 802,380.6 802.8,381.4 803.6,381.7 804.4,380.9 805.2,380.8 806,381.4 806.8,380.6 807.6,380.9 808.4,381.1 809.2,380.6 810,380.7 810.9,381 811.7,381.5 812.5,381.1 813.3,381 814.1,380.6 814.9,380.6 815.7,381.8 816.5,381.2 817.3,380.6 818.1,381.3 818.9,380.8 819.7,381.6 820.5,380.7 821.3,381.7 822.1,381.5 822.9,381.6 823.7,381.7 824.5,381 825.3,380.8 826.1,381.7 826.9,381.7 827.7,381.4 828.5,381.6 829.3,381.1 830.1,381.8 830.9,381.2 831.7,381.3 832.5,381.9 833.3,381.5 834.1,381.6 835,382 835.8,381.7 836.6,381.3 837.4,381 838.2,380.9 839,381.2 839.8,381.7 840.6,382 841.4,381.3 842.2,381.5 843,381.1 843.8,382 844.6,381.5 845.4,382.3 846.2,382 847,381.9 847.8,381.4 848.6,382 849.4,381.7 850.2,381.2 851,381.3 851.8,382 852.6,382.4 853.4,381.9 854.2,381.7 855,382 855.8,381.8 856.6,382.6 857.4,382.6 858.2,382.8 859.1,383 859.9,382.5 860.7,382.2 861.5,382.8 862.3,382.1 863.1,383 863.9,383 864.7,382.4 865.5,382.8 866.3,383 867.1,383.5 867.9,383.8 868.7,383.8 869.5,383.9 870.3,383.6 871.1,383.8 871.9,383.6 872.7,384.1 873.5,383.6 874.3,383.4 875.1,383.7 875.9,384.1 876.7,384.6 877.5,384 878.3,384 879.1,385.2 879.9,384.2 880.7,384.2 881.5,385.3 882.4,385.4 883.2,384.7 884,385.2 884.8,385.8 885.6,385.2 886.4,385 887.2,385.2 888,386.2 888.8,386.4 889.6,385.8 890.4,385.8 891.2,385.5 892,386 892.8,386.1 893.6,386 894.4,386.8 895.2,387.3 896,387.6 896.8,387.4 897.6,386.9 898.4,387.5 899.2,388.4 900,387.5 900.8,387.8 901.6,389.1 902.4,388.3 903.2,389.4 904,389.9 904.8,389.7 905.6,389.6 906.5,390.6 907.3,390.7 908.1,390.6 908.9,392.1 909.7,391.8 910.5,392.8 911.3,393.7 912.1,393.2 912.9,393.9 913.7,394.7 914.5,395.2 915.3,395.9 916.1,396.1 916.9,397.8 917.7,398.4 918.5,399.3 919.3,400.4 920.1,401.3 920.9,403.1 921.7,405 922.5,407.2 923.3,409.3 924.1,411.7 924.9,414.3 925.7,416.6 926.5,418.6 927.3,420.6 928.1,422.6 928.9,424.9 929.7,426.5 930.5,428.7 931.4,430.5 932.2,432.1 933,434.1 933.8,435.7 934.6,437.5 935.4,438.9 936.2,440.6 937,441.9 937.8,443.2 938.6,444.7 939.4,446.5 940.2,447.9 941,449.2 941.8,450.4 942.6,451.7 943.4,452.4 944.2,453.3 945,454.1 945.8,454.6 946.6,454.7 947.4,454.6 948.2,454 949,453.2 949.8,452 950.6,450.9 951.4,449.4 952.2,446.5 953,440.8 953.8,434.5 954.7,425.4 955.5,414.4 956.3,404 957.1,394.9 957.9,384.9 958.7,372.8 959.5,357.5 960.3,340.6 961.1,322.1 961.9,302.1 962.7,281.8 963.5,261.6 964.3,244.7 965.1,228.6 965.9,213.3 966.7,199.2 967.5,187.5 968.3,177.1 969.1,169.8 969.9,167.5 970.7,169.9 971.5,173.4 972.3,179.3 973.1,187 973.9,195.4 974.7,203.5 975.5,212.9 976.3,223.4 977.1,233.1 977.9,244.1 978.8,255.3 979.6,266.2 980.4,280 981.2,294.8 982,308 982.8,319.8 983.6,330.6 984.4,339.6 985.2,347.2 986,354.2 986.8,360.5 987.6,366.6 988.4,372.1 989.2,376.3 990,379.6 990.8,382.7 991.6,385.9 992.4,388.1 993.2,390.5 994,393.2 994.8,395.1 995.6,396.5 996.4,397.7 997.2,398.7 998,400 998.8,401 999.6,402.2 1000.4,403.8 1001.2,404.8 1002,406 1002.8,406.5 1003.7,407.4 1004.5,408.3 1005.3,408.2 1006.1,408.5 1006.9,408.3 1007.7,408.5 1008.5,408.1 1009.3,407.9 1010.1,407.1 1010.9,407 1011.7,406.2 1012.5,405.6 1013.3,405.1 1014.1,404.5 1014.9,404 1015.7,403.2 1016.5,402.4 1017.3,401.9 1018.1,400.4 1018.9,399.5 1019.7,398.8 1020.5,397.5 1021.3,397.3 1022.1,396.1 1022.9,394.9 1023.7,394.2 1024.5,393.5 1025.3,392.5 1026.1,392.6 1027,391.2 1027.8,390.7 1028.6,390.1 1029.4,390.1 1030.2,389.7 1031,388.2 1031.8,388.6 1032.6,387.2 1033.4,387.5 1034.2,386.7 1035,385.8 1035.8,384.8 1036.6,385.1 1037.4,383.7 1038.2,383.3 1039,383.1 1039.8,383.3 1040.6,382.7 1041.4,381.6 1042.2,381.7 1043,381.3 1043.8,380.9 1044.6,381.1 1045.4,379.6 1046.2,379.7 1047,379.3 1047.8,378.8 1048.6,378.9 1049.4,378.9 1050.2,377.7 1051,378.6 1051.9,378.1 1052.7,377.5 1053.5,377.7 1054.3,377.4 1055.1,377.8 1055.9,376.9 1056.7,376.8 1057.5,377.3 1058.3,376.5 1059.1,376.5 1059.9,376.8 1060.7,377.3 1061.5,377.5 1062.3,376.2 1063.1,376.2 1063.9,376.6 1064.7,376.6 1065.5,376.3 1066.3,376.7 1067.1,376.8 1067.9,376.7 1068.7,376.7 1069.5,376.4 1070.3,377.1 1071.1,376.8 1071.9,376.3 1072.7,375.8 1073.5,376.3 1074.3,376.6 1075.2,375.7 1076,375.8 1076.8,376.7 1077.6,375.7 1078.4,376.1 1079.2,376.8 1080,376.4 1080.8,376.9 1081.6,376.2 1082.4,376.8 1083.2,377.7 1084,377.2 1084.8,377.3 1085.6,377.1 1086.4,377.1 1087.2,377.7 1088,378 1088.8,378.2 1089.6,378.9 1090.4,378.3 1091.2,378.8 1092,379.1 1092.8,378.7 1093.6,379.4 1094.4,379.1 1095.2,379.7 1096,380 1096.8,379.6 1097.6,379.2 1098.4,380.3 1099.2,380.4 1100.1,380.3 1100.9,379.6 1101.7,380.2 1102.5,380.4 1103.3,380.5 1104.1,380.6 1104.9,380.4 1105.7,380.6 1106.5,381 1107.3,380.2 1108.1,381.1 1108.9,380.6 1109.7,380.7 1110.5,381.3 1111.3,381 1112.1,380.3 1112.9,380.2 1113.7,380.2 1114.5,381.2 1115.3,380.4 1116.1,380.9 1116.9,381.1 1117.7,381.2 1118.5,380.2 1119.3,380.1 1120.1,380.7 1120.9,380.2 1121.7,381.3 1122.5,381.5 1123.3,380.8 1124.2,380.2 1125,380.8 1125.8,381.1 1126.6,380.2 1127.4,380.6 1128.2,381 1129,380.7 1129.8,380.6 1130.6,381.4 1131.4,380.8 1132.2,380.7 1133,381.4 1133.8,381.3 1134.6,381.5 1135.4,381.3 1136.2,381.5 1137,380.8 1137.8,380.4 1138.6,381.4 1139.4,380.4 1140.2,381.2 1141,381.6 1141.8,381 1142.6,381.2 1143.4,381.1 1144.2,381.2 1145,380.5 1145.8,381.1 1146.6,380.4 1147.5,380.7 1148.3,380.7 1149.1,380.5 1149.9,381.4 1150.7,380.3 1151.5,380.8 1152.3,381.6 1153.1,381.3 1153.9,380.4 1154.7,380.7 1155.5,381.6 1156.3,381.5 1157.1,380.3 1157.9,381.3 1158.7,381 1159.5,380.8" fill="none" stroke="#77AC30" stroke-width="1" marker-start="url(#mO)" marker-mid="url(#mO)" marker-end="url(#mO)"/>
<path d="M846.3 34.4 V494.9" stroke="#000" stroke-width="1.3" stroke-dasharray="6 3.5"/>
<circle cx="133.5" cy="295.9" r="21.6" fill="#000"/><path d="M146.5 298.7 A13.3 13.3 0 1 1 146.5 293.1" fill="none" stroke="#fff" stroke-width="1.3"/><circle cx="133.5" cy="296.2" r="7.4" fill="#fff"/><path d="M134.2 293.2 L134.3 290.3 A6 6 0 0 1 138.2 292.5 L135.7 294.1 Z" fill="#000"/><path d="M136.5 295.3 L139.1 294 A6 6 0 0 1 139.1 298.4 L136.5 297.1 Z" fill="#000"/><path d="M135.7 298.3 L138.2 299.9 A6 6 0 0 1 134.3 302.1 L134.2 299.2 Z" fill="#000"/><path d="M132.8 299.2 L132.7 302.1 A6 6 0 0 1 128.8 299.9 L131.3 298.3 Z" fill="#000"/><path d="M130.5 297.1 L127.9 298.4 A6 6 0 0 1 127.9 294 L130.5 295.3 Z" fill="#000"/><path d="M131.3 294.1 L128.8 292.5 A6 6 0 0 1 132.7 290.3 L132.8 293.2 Z" fill="#000"/><rect x="153.5" y="294.7" width="8" height="3" fill="#000"/><path d="M160.6 280.9 L160.6 311.4 L187.1 296.2 Z" fill="#000"/>
<circle cx="730.5" cy="333.9" r="21.6" fill="#000"/><path d="M743.5 336.7 A13.3 13.3 0 1 1 743.5 331.1" fill="none" stroke="#fff" stroke-width="1.3"/><circle cx="730.5" cy="334.2" r="7.4" fill="#fff"/><path d="M731.2 331.2 L731.3 328.3 A6 6 0 0 1 735.2 330.5 L732.7 332.1 Z" fill="#000"/><path d="M733.5 333.3 L736.1 332 A6 6 0 0 1 736.1 336.4 L733.5 335.1 Z" fill="#000"/><path d="M732.7 336.3 L735.2 337.9 A6 6 0 0 1 731.3 340.1 L731.2 337.2 Z" fill="#000"/><path d="M729.8 337.2 L729.7 340.1 A6 6 0 0 1 725.8 337.9 L728.3 336.3 Z" fill="#000"/><path d="M727.5 335.1 L724.9 336.4 A6 6 0 0 1 724.9 332 L727.5 333.3 Z" fill="#000"/><path d="M728.3 332.1 L725.8 330.5 A6 6 0 0 1 729.7 328.3 L729.8 331.2 Z" fill="#000"/><rect x="750.5" y="332.7" width="8" height="3" fill="#000"/><path d="M757.6 318.9 L757.6 349.4 L784.1 334.2 Z" fill="#000"/>
<rect x="92.5" y="41.7" width="154.5" height="60.3" fill="#fff" stroke="#303030" stroke-width="1.6"/>
<path d="M92.5 82.6 H247" stroke="#303030" stroke-width="1.2"/>
<text x="95.8" y="56.5" font-size="13" font-weight="bold" textLength="146.7" lengthAdjust="spacingAndGlyphs">0 ESAL (speed ≈ 2m/s)</text>
<text x="131.1" y="73.4" font-size="13" font-weight="bold">T</text>
<text x="140" y="79.4" font-size="9.5" font-weight="bold" textLength="23.3" lengthAdjust="spacingAndGlyphs">HMA</text>
<text x="168.1" y="73.4" font-size="13" font-weight="bold" textLength="39.5" lengthAdjust="spacingAndGlyphs">=16°C</text>
<path d="M136.3 92.6 H163.3" stroke="#000" stroke-width="1"/>
<path d="M149.9 87.5 L153.5 92.2 L149.9 96.9 L146.3 92.2 Z" fill="none" stroke="#000" stroke-width="1"/>
<text x="166.4" y="95.9" font-size="13.3" textLength="35.8" lengthAdjust="spacingAndGlyphs">TML-2</text>
<rect x="724.3" y="43.4" width="387.2" height="97.6" fill="#fff" stroke="#303030" stroke-width="1.6"/>
<path d="M724.3 95.7 H1111.5" stroke="#303030" stroke-width="1.2"/>
<text x="822.6" y="59.7" font-size="15.5" font-weight="bold" textLength="189.6" lengthAdjust="spacingAndGlyphs">0 ESAL (speed ≈ 2m/s)</text>
<text x="822.3" y="80.8" font-size="15.5" font-weight="bold">T</text>
<text x="833.4" y="89.4" font-size="11" font-weight="bold" textLength="29.2" lengthAdjust="spacingAndGlyphs">HMA</text>
<text x="869.4" y="80.8" font-size="15.5" font-weight="bold" textLength="144.6" lengthAdjust="spacingAndGlyphs">(z=20mm) =16°C</text>
<path d="M727.7 108 H756" stroke="#0072BD" stroke-width="1"/>
<path d="M738 108 h8 M742 104 v8 M739.2 105.2 l5.6 5.6 M739.2 110.8 l5.6 -5.6" stroke="#0072BD" stroke-width="1"/>
<text x="758.8" y="112.1" font-size="15.5" textLength="46.3" lengthAdjust="spacingAndGlyphs">TML-1</text>
<path d="M812 108 H840.3" stroke="#EDB120" stroke-width="1"/>
<path d="M826.3 103.5 l3.8 4.5 l-3.8 4.5 l-3.8 -4.5 Z" fill="none" stroke="#EDB120" stroke-width="1"/>
<text x="842.8" y="112.1" font-size="15.5" textLength="46.3" lengthAdjust="spacingAndGlyphs">TML-3</text>
<path d="M896.2 108 H924.5" stroke="#77AC30" stroke-width="1"/>
<circle cx="910.5" cy="108" r="3.6" fill="none" stroke="#77AC30" stroke-width="1"/>
<text x="928" y="112.1" font-size="15.5" textLength="179.5" lengthAdjust="spacingAndGlyphs">TML-4 (in-between axle)</text>
<path d="M727.7 129.2 H756" stroke="#D95319" stroke-width="1"/>
<path d="M739 126.2 l6 6 M739 132.2 l6 -6" stroke="#D95319" stroke-width="1"/>
<text x="758.8" y="133.3" font-size="15.5" textLength="46.3" lengthAdjust="spacingAndGlyphs">TML-2</text>
<path d="M812 129.2 H840.3" stroke="#7E2F8E" stroke-width="1"/>
<rect x="823.1" y="126" width="6.4" height="6.4" fill="none" stroke="#7E2F8E" stroke-width="1"/>
<text x="842.8" y="133.3" font-size="15.5" textLength="46.3" lengthAdjust="spacingAndGlyphs">TML-5</text>
<path d="M896.2 129.2 H924.5" stroke="#000" stroke-width="1.2" stroke-dasharray="5 5"/>
<text x="927.9" y="133.3" font-size="15.5" textLength="37.7" lengthAdjust="spacingAndGlyphs">crack</text>
<text x="249" y="207.6" font-size="31" fill="#800000">ε<tspan x="261.5" y="213.3" font-size="30">t</tspan></text>
<text x="234" y="392" font-size="31" fill="#800000">ε<tspan x="247" y="397.6" font-size="31">cb</tspan></text>
<text x="472.4" y="370.6" font-size="31" fill="#800000">ε<tspan x="486.2" y="376.3" font-size="30.5">ca</tspan></text>
<text x="420.3" y="140.8" font-size="31.5" fill="#000080">T<tspan x="438" y="146.7" font-size="20">load</tspan></text>
<text x="387.1" y="198" font-size="31.5" fill="#000080">T<tspan x="405.8" y="203.8" font-size="20">pk</tspan></text>
<g font-size="23" fill="#262626"><text x="71.8" y="42.7" text-anchor="end" textLength="36.2" lengthAdjust="spacingAndGlyphs">400</text><text x="71.8" y="119.5" text-anchor="end" textLength="36.2" lengthAdjust="spacingAndGlyphs">300</text><text x="71.8" y="196.2" text-anchor="end" textLength="36.2" lengthAdjust="spacingAndGlyphs">200</text><text x="71.8" y="272.9" text-anchor="end" textLength="36.2" lengthAdjust="spacingAndGlyphs">100</text><text x="71.8" y="349.7" text-anchor="end" textLength="12.1" lengthAdjust="spacingAndGlyphs">0</text><text x="71.8" y="426.4" text-anchor="end" textLength="44.3" lengthAdjust="spacingAndGlyphs">-100</text><text x="71.8" y="503.2" text-anchor="end" textLength="44.3" lengthAdjust="spacingAndGlyphs">-200</text><text x="84.3" y="518.7" text-anchor="middle" textLength="12.1" lengthAdjust="spacingAndGlyphs">0</text><text x="211.1" y="518.7" text-anchor="middle" textLength="30.2" lengthAdjust="spacingAndGlyphs">0.5</text><text x="348.2" y="518.7" text-anchor="middle" textLength="12.1" lengthAdjust="spacingAndGlyphs">1</text><text x="472.6" y="518.7" text-anchor="middle" textLength="30.2" lengthAdjust="spacingAndGlyphs">1.5</text><text x="607.3" y="518.7" text-anchor="middle" textLength="12.1" lengthAdjust="spacingAndGlyphs">2</text><text x="667.2" y="41.9" text-anchor="end" textLength="36.2" lengthAdjust="spacingAndGlyphs">600</text><text x="667.2" y="99.3" text-anchor="end" textLength="36.2" lengthAdjust="spacingAndGlyphs">500</text><text x="667.2" y="156.7" text-anchor="end" textLength="36.2" lengthAdjust="spacingAndGlyphs">400</text><text x="667.2" y="214.1" text-anchor="end" textLength="36.2" lengthAdjust="spacingAndGlyphs">300</text><text x="667.2" y="271.4" text-anchor="end" textLength="36.2" lengthAdjust="spacingAndGlyphs">200</text><text x="667.2" y="328.8" text-anchor="end" textLength="36.2" lengthAdjust="spacingAndGlyphs">100</text><text x="667.2" y="386.2" text-anchor="end" textLength="12.1" lengthAdjust="spacingAndGlyphs">0</text><text x="667.2" y="443.6" text-anchor="end" textLength="44.3" lengthAdjust="spacingAndGlyphs">-100</text><text x="667.2" y="501" text-anchor="end" textLength="44.3" lengthAdjust="spacingAndGlyphs">-200</text><text x="677.9" y="521.3" text-anchor="middle" textLength="12.1" lengthAdjust="spacingAndGlyphs">0</text><text x="758.2" y="521.3" text-anchor="middle" textLength="30.2" lengthAdjust="spacingAndGlyphs">0.5</text><text x="838.6" y="521.3" text-anchor="middle" textLength="12.1" lengthAdjust="spacingAndGlyphs">1</text><text x="918.9" y="521.3" text-anchor="middle" textLength="30.2" lengthAdjust="spacingAndGlyphs">1.5</text><text x="999.2" y="521.3" text-anchor="middle" textLength="12.1" lengthAdjust="spacingAndGlyphs">2</text><text x="1079.6" y="521.3" text-anchor="middle" textLength="30.2" lengthAdjust="spacingAndGlyphs">2.5</text><text x="1159.9" y="521.3" text-anchor="middle" textLength="12.1" lengthAdjust="spacingAndGlyphs">3</text></g>
<text x="344.1" y="550.5" font-size="27" text-anchor="middle" fill="#262626">time (s)</text>
<text x="917.7" y="552.8" font-size="27" text-anchor="middle" fill="#262626">time (s)</text>
<text transform="translate(17.6 359.2) rotate(-90)" font-size="27" fill="#262626" textLength="170.6" lengthAdjust="spacingAndGlyphs"><tspan font-style="italic">μ</tspan>strain (<tspan font-style="italic">μ</tspan>m/m)</text>
<text x="326.1" y="19.9" font-size="28" textLength="33" lengthAdjust="spacing" fill="#000">(a)</text>
<text x="897.9" y="19.7" font-size="28" textLength="35.5" lengthAdjust="spacing" fill="#000">(b)</text>
</svg></body></html>
